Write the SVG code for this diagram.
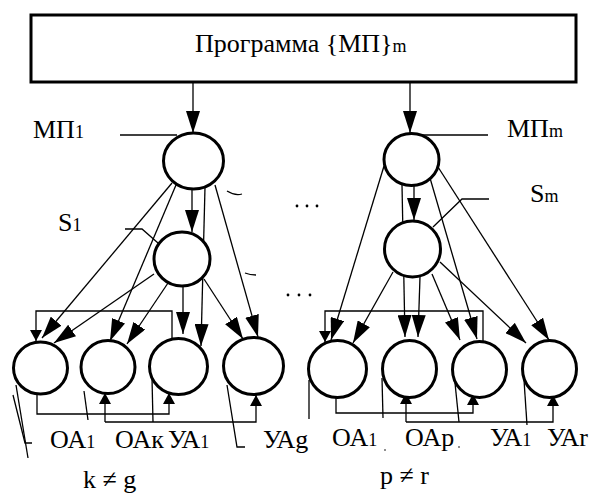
<svg xmlns="http://www.w3.org/2000/svg" width="602" height="495" viewBox="0 0 602 495">
<style>
.n{fill:#fff;stroke:#000;stroke-width:3}
.c{fill:none;stroke:#000;stroke-width:1.3}
.t{font-family:"Liberation Serif","Times New Roman","DejaVu Serif",serif;font-size:26px;fill:#000}
.s{font-size:18px}
</style>
<defs>
<marker id="ab" viewBox="0 0 22 14" markerWidth="22" markerHeight="14" refX="22" refY="7" orient="auto" markerUnits="userSpaceOnUse"><path d="M0,0L22,7L0,14z" fill="#000"/></marker>
<marker id="as" viewBox="0 0 11 12" markerWidth="11" markerHeight="12" refX="11" refY="6" orient="auto" markerUnits="userSpaceOnUse"><path d="M0,0L11,6L0,12z" fill="#000"/></marker>
</defs>
<rect width="602" height="495" fill="#fff"/>
<g id="connectors" class="c">
<line x1="193" y1="82" x2="193" y2="133" marker-end="url(#ab)"/>
<line x1="410" y1="82" x2="410" y2="133" marker-end="url(#ab)"/>
<line x1="192" y1="189" x2="192" y2="232" marker-end="url(#ab)"/>
<line x1="414" y1="185" x2="414" y2="220" marker-end="url(#ab)"/>
<line x1="172" y1="183" x2="42" y2="338" marker-end="url(#ab)"/>
<line x1="154" y1="274" x2="54" y2="343" marker-end="url(#ab)"/>
<line x1="176" y1="185" x2="110" y2="341" marker-end="url(#ab)"/>
<line x1="168" y1="283" x2="127" y2="344" marker-end="url(#ab)"/>
<line x1="183" y1="286" x2="183" y2="334" marker-end="url(#ab)"/>
<line x1="205" y1="187" x2="201" y2="346" marker-end="url(#ab)"/>
<line x1="215" y1="185" x2="258" y2="337" marker-end="url(#ab)"/>
<line x1="204" y1="279" x2="243" y2="339" marker-end="url(#ab)"/>
<line x1="384" y1="166" x2="331" y2="340" marker-end="url(#ab)"/>
<line x1="393" y1="272" x2="353" y2="343" marker-end="url(#ab)"/>
<line x1="402" y1="185" x2="405" y2="337" marker-end="url(#ab)"/>
<line x1="420" y1="277" x2="418" y2="337" marker-end="url(#ab)"/>
<line x1="432" y1="274" x2="460" y2="340" marker-end="url(#ab)"/>
<line x1="430" y1="178" x2="477" y2="339" marker-end="url(#ab)"/>
<line x1="440" y1="262" x2="526" y2="343" marker-end="url(#ab)"/>
<line x1="438" y1="167" x2="549" y2="340" marker-end="url(#ab)"/>
<polyline points="172,338 172,311 36,311 36,341" marker-end="url(#as)"/>
<polyline points="483,341 483,311 325,311 325,342" marker-end="url(#as)"/>
<polyline points="37,394 37,414 169,414 169,393" marker-end="url(#as)"/>
<polyline points="336,398 336,413 473,413 473,394" marker-end="url(#as)"/>
<polyline points="152,378 153,422"/>
<polyline points="105,422 105,393" marker-end="url(#as)"/>
<polyline points="105,422 256,422 256,395" marker-end="url(#as)"/>
<polyline points="455,383 459,422"/>
<polyline points="406,422 406,393" marker-end="url(#as)"/>
<polyline points="406,422 553,422 553,395" marker-end="url(#as)"/>
<polyline points="177,135 120,135"/>
<polyline points="158,243 142,229 125,229"/>
<polyline points="417,135 488,135"/>
<polyline points="433,227 462,199 489,199"/>
<polyline points="16,385 28,458"/>
<polyline points="13,395 25,443 32,443"/>
<polyline points="84,391 88,420"/>
<polyline points="227,385 237,447 245,447"/>
<polyline points="309,380 309,419"/>
<polyline points="382,378 383,418"/>
<polyline points="524,380 527,425"/>
<path d="M227,191Q235,196 242,194"/>
<path d="M245,273Q250,275 256,275"/>
</g>
<g font-family="Liberation Serif, serif">
<g id="program"><rect class="n" x="31" y="15" width="545" height="67"/><text class="t" x="195" y="52">Программа {МП}<tspan class="s">m</tspan></text></g>
<g id="mp1"><ellipse class="n" cx="193.5" cy="161" rx="30" ry="28"/><text class="t" x="33" y="138">МП<tspan class="s">1</tspan></text></g>
<g id="s1"><ellipse class="n" cx="182" cy="259" rx="28" ry="27"/><text class="t" x="58" y="231">S<tspan class="s">1</tspan></text></g>
<g id="mpm"><ellipse class="n" cx="411.5" cy="159.5" rx="27.5" ry="26"/><text class="t" x="507" y="137">МП<tspan class="s">m</tspan></text></g>
<g id="sm"><ellipse class="n" cx="412.5" cy="249" rx="28" ry="28"/><text class="t" x="530" y="202">S<tspan class="s">m</tspan></text></g>
<g id="oa1"><ellipse class="n" cx="40.5" cy="368" rx="27" ry="26"/><text class="t" x="50" y="448">ОА<tspan class="s">1</tspan></text></g>
<g id="oak"><ellipse class="n" cx="108" cy="367" rx="27" ry="26.5"/><text class="t" x="115" y="448">ОАк</text></g>
<g id="ua1"><ellipse class="n" cx="178.5" cy="366.5" rx="29" ry="28"/><text class="t" x="168" y="448">УА<tspan class="s">1</tspan></text></g>
<g id="uag"><ellipse class="n" cx="253.5" cy="366" rx="30" ry="28.5"/><text class="t" x="263" y="448">УАg</text></g>
<g id="oa1r"><ellipse class="n" cx="337.5" cy="369" rx="29" ry="28.5"/><text class="t" x="332" y="446">ОА<tspan class="s">1</tspan></text></g>
<g id="oap"><ellipse class="n" cx="409.5" cy="369" rx="27" ry="28.5"/><text class="t" x="405" y="446">ОАp</text></g>
<g id="ua1r"><ellipse class="n" cx="479.5" cy="369.5" rx="27" ry="28"/><text class="t" x="490" y="446">УА<tspan class="s">1</tspan></text></g>
<g id="uar"><ellipse class="n" cx="549.5" cy="369" rx="27" ry="28.5"/><text class="t" x="547" y="446">УАr</text></g>
<text class="t" x="83" y="488">k ≠ g</text>
<text class="t" x="380" y="484">p ≠ r</text>
</g>
<g id="dots" fill="#000"><circle cx="297" cy="206" r="1.4"/><circle cx="307" cy="206" r="1.4"/><circle cx="317" cy="206" r="1.4"/><circle cx="288" cy="295" r="1.4"/><circle cx="299" cy="295" r="1.4"/><circle cx="310" cy="295" r="1.4"/><circle cx="385" cy="450" r="0.8"/><circle cx="459" cy="447" r="0.8"/></g>
</svg>
